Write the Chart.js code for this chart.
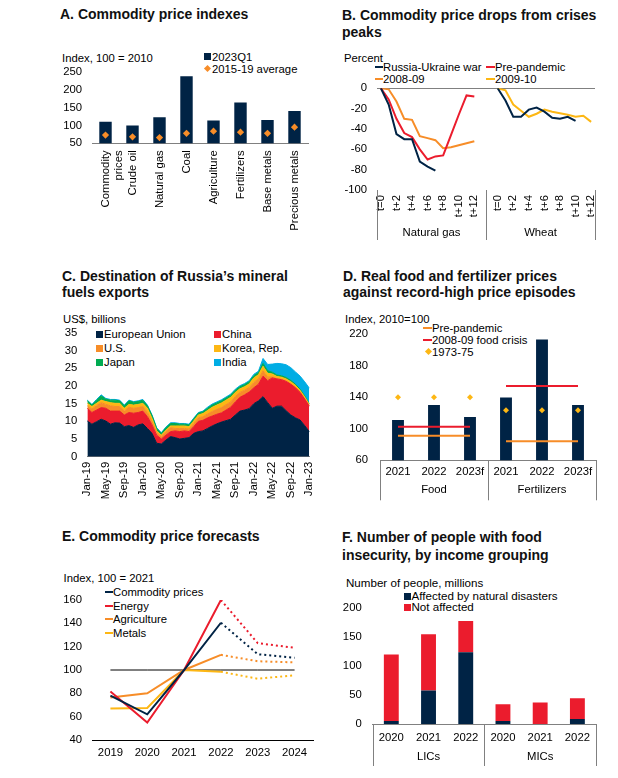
<!DOCTYPE html>
<html lang="en">
<head>
<meta charset="UTF-8">
<title>Commodity markets</title>
<script src="https://cdn.jsdelivr.net/npm/chart.js@4.4.0/dist/chart.umd.min.js"></script>
<style>
  body { margin: 0; background: #fff; font-family: Arial, "Liberation Sans", sans-serif; color: #000; }
  #page { position: relative; width: 618px; height: 778px; overflow: hidden; }
  .title { position: absolute; font-weight: bold; font-size: 14px; line-height: 17px; white-space: nowrap; color: #111; }
  .lbl { position: absolute; font-size: 11.3px; line-height: 12px; white-space: nowrap; }
  .sq { position: absolute; width: 7px; height: 7px; }
  .ln { position: absolute; width: 9px; height: 2px; }
  .dm { position: absolute; width: 5px; height: 5px; transform: rotate(45deg); }
  canvas { position: absolute; }
</style>
</head>
<body>
<div id="page">
  <!-- A -->
  <div class="title" style="left:60px;top:5.5px">A. Commodity price indexes</div>
  <div class="lbl" style="left:62px;top:52px">Index, 100 = 2010</div>
  <div class="sq" style="left:204px;top:53px;background:#002345"></div>
  <div class="lbl" style="left:212px;top:51px">2023Q1</div>
  <div class="dm" style="left:205px;top:66px;background:#F78D28"></div>
  <div class="lbl" style="left:212px;top:63px">2015-19 average</div>
  <canvas id="cA" width="262" height="175" style="left:50px;top:62px"></canvas>

  <!-- B -->
  <div class="title" style="left:342px;top:6.5px">B. Commodity price drops from crises<br>peaks</div>
  <div class="lbl" style="left:344px;top:52px">Percent</div>
  <div class="ln" style="left:375px;top:66px;width:8px;background:#002345"></div>
  <div class="lbl" style="left:383px;top:61px">Russia-Ukraine war</div>
  <div class="ln" style="left:486px;top:66px;background:#EB1C2D"></div>
  <div class="lbl" style="left:495px;top:61px">Pre-pandemic</div>
  <div class="ln" style="left:375px;top:78px;width:8px;background:#F78D28"></div>
  <div class="lbl" style="left:383px;top:73px">2008-09</div>
  <div class="ln" style="left:486px;top:78px;background:#FDB714"></div>
  <div class="lbl" style="left:495px;top:73px">2009-10</div>
  <canvas id="cB" width="275" height="170" style="left:330px;top:75px"></canvas>

  <!-- C -->
  <div class="title" style="left:62px;top:267.5px;line-height:16.5px">C. Destination of Russia’s mineral<br>fuels exports</div>
  <div class="lbl" style="left:63px;top:313px">US$, billions</div>
  <div class="sq" style="left:96px;top:330.5px;background:#002345"></div>
  <div class="lbl" style="left:104px;top:328px">European Union</div>
  <div class="sq" style="left:214px;top:330.5px;background:#EB1C2D"></div>
  <div class="lbl" style="left:222px;top:328px">China</div>
  <div class="sq" style="left:96px;top:344.5px;background:#F78D28"></div>
  <div class="lbl" style="left:104px;top:342px">U.S.</div>
  <div class="sq" style="left:214px;top:344.5px;background:#FDB714"></div>
  <div class="lbl" style="left:222px;top:342px">Korea, Rep.</div>
  <div class="sq" style="left:96px;top:358.5px;background:#00AB51"></div>
  <div class="lbl" style="left:104px;top:356px">Japan</div>
  <div class="sq" style="left:214px;top:358.5px;background:#00ADE4"></div>
  <div class="lbl" style="left:222px;top:356px">India</div>
  <canvas id="cC" width="278" height="200" style="left:40px;top:320px"></canvas>

  <!-- D -->
  <div class="title" style="left:343px;top:267.5px;line-height:16.5px">D. Real food and fertilizer prices<br>against record-high price episodes</div>
  <div class="lbl" style="left:345px;top:313px">Index, 2010=100</div>
  <div class="ln" style="left:423px;top:327px;background:#F78D28"></div>
  <div class="lbl" style="left:432px;top:322px">Pre-pandemic</div>
  <div class="ln" style="left:423px;top:339px;background:#EB1C2D"></div>
  <div class="lbl" style="left:432px;top:334px">2008-09 food crisis</div>
  <div class="dm" style="left:425.5px;top:349px;background:#FDB714"></div>
  <div class="lbl" style="left:432px;top:345.5px">1973-75</div>
  <canvas id="cD" width="275" height="190" style="left:330px;top:320px"></canvas>

  <!-- E -->
  <div class="title" style="left:62px;top:527.5px">E. Commodity price forecasts</div>
  <div class="lbl" style="left:63.5px;top:572px">Index, 100 = 2021</div>
  <div class="ln" style="left:105px;top:591px;width:8px;background:#002345"></div>
  <div class="lbl" style="left:113px;top:586px">Commodity prices</div>
  <div class="ln" style="left:105px;top:604.5px;width:8px;background:#EB1C2D"></div>
  <div class="lbl" style="left:113px;top:599.5px">Energy</div>
  <div class="ln" style="left:105px;top:618px;width:8px;background:#F78D28"></div>
  <div class="lbl" style="left:113px;top:613px">Agriculture</div>
  <div class="ln" style="left:105px;top:631.5px;width:8px;background:#FDB714"></div>
  <div class="lbl" style="left:113px;top:626.5px">Metals</div>
  <canvas id="cE" width="280" height="185" style="left:40px;top:585px"></canvas>

  <!-- F -->
  <div class="title" style="left:342px;top:527.5px;line-height:18.3px">F. Number of people with food<br>insecurity, by income grouping</div>
  <div class="lbl" style="left:346px;top:576.5px;font-size:11.6px">Number of people, millions</div>
  <div class="sq" style="left:404px;top:593px;width:6.5px;height:6.5px;background:#002345"></div>
  <div class="lbl" style="left:411.5px;top:590px;font-size:11.6px">Affected by natural disasters</div>
  <div class="sq" style="left:404px;top:604px;width:6.5px;height:6.5px;background:#EB1C2D"></div>
  <div class="lbl" style="left:411.5px;top:601px;font-size:11.6px">Not affected</div>
  <canvas id="cF" width="275" height="180" style="left:330px;top:595px"></canvas>
</div>

<script>
  // ---- data ----
  // A. Commodity price indexes (100 = 2010)
  const aCategories = [['Commodity', 'prices'], 'Crude oil', 'Natural gas', 'Coal', 'Agriculture', 'Fertilizers', 'Base metals', 'Precious metals'];
  const a2023Q1 = [110, 100, 123, 237, 114, 164, 115, 140];
  const aAverage1519 = [73, 68, 66, 78, 84, 81, 78, 95];

  // B. Price drops from crisis peaks (percent), t=0..t+12
  const bLabels = ['t=0', 't+1', 't+2', 't+3', 't+4', 't+5', 't+6', 't+7', 't+8', 't+9', 't+10', 't+11', 't+12', '', '',
                   't=0', 't+1', 't+2', 't+3', 't+4', 't+5', 't+6', 't+7', 't+8', 't+9', 't+10', 't+11', 't+12'];
  const bGroups = ['Natural gas', 'Wheat'];
  const bGasRussia = [0, -16, -45, -50, -50, -72, -77, -81, null, null, null, null, null];
  const bGasPrePandemic = [0, -11, -30, -44, -48, -60, -70, -67, -66, -46, -26, -7, -8];
  const bGas0809 = [0, -1, -13, -30, -31, -47, -49, -51, -59, -58, -56, -54, -52];
  const bWheatRussia = [0, -12, -28, -28, -21, -19, -23, -29, -30, -28, -32, null, null];
  const bWheat0910 = [0, -2, -16, -22, -28, -25, -21, -23, -24.5, -26, -28, -27, -33];

  // C. Russia's mineral fuels exports by destination (US$ billions), Jan-19..Jan-23
  const cMonths = ['Jan-19', 'Feb-19', 'Mar-19', 'Apr-19', 'May-19', 'Jun-19', 'Jul-19', 'Aug-19', 'Sep-19', 'Oct-19', 'Nov-19', 'Dec-19',
                   'Jan-20', 'Feb-20', 'Mar-20', 'Apr-20', 'May-20', 'Jun-20', 'Jul-20', 'Aug-20', 'Sep-20', 'Oct-20', 'Nov-20', 'Dec-20',
                   'Jan-21', 'Feb-21', 'Mar-21', 'Apr-21', 'May-21', 'Jun-21', 'Jul-21', 'Aug-21', 'Sep-21', 'Oct-21', 'Nov-21', 'Dec-21',
                   'Jan-22', 'Feb-22', 'Mar-22', 'Apr-22', 'May-22', 'Jun-22', 'Jul-22', 'Aug-22', 'Sep-22', 'Oct-22', 'Nov-22', 'Dec-22',
                   'Jan-23'];
  const cEU = [10.1, 9.2, 9.9, 10.6, 10.1, 9.2, 9.6, 9.5, 8.5, 8.8, 8.3, 9.0, 9.3,
               8.0, 6.6, 3.8, 3.6, 4.7, 5.7, 5.4, 5.0, 5.2, 5.4, 6.6, 7.1,
               7.3, 8.0, 8.7, 9.3, 9.8, 10.2, 10.6, 11.8, 12.9, 13.2, 13.6, 15.0,
               15.8, 17.0, 15.3, 13.7, 14.3, 14.3, 13.0, 11.8, 11.0, 10.4, 8.8, 7.1];
  const cChina = [3.6, 3.3, 3.3, 3.3, 3.6, 3.7, 3.3, 3.4, 3.3, 3.7, 4.0, 3.5, 3.6,
                  3.3, 2.4, 2.3, 1.4, 1.4, 1.4, 1.9, 2.1, 2.1, 1.7, 1.9, 2.9,
                  3.0, 3.0, 2.8, 2.7, 2.6, 3.0, 3.4, 3.7, 3.9, 4.3, 4.7, 4.5,
                  4.7, 5.8, 6.2, 8.6, 7.7, 7.5, 8.3, 8.7, 8.5, 7.8, 7.5, 7.2];
  const cUS = [0.7, 1.0, 1.2, 1.4, 1.1, 1.5, 1.3, 1.3, 1.1, 1.5, 1.4, 1.4, 1.3,
               1.2, 0.9, 0.8, 0.7, 1.0, 1.1, 0.7, 0.9, 0.7, 0.7, 0.9, 1.0,
               1.0, 1.1, 1.3, 1.4, 1.5, 1.5, 1.5, 1.5, 1.4, 1.3, 1.3, 1.5,
               1.5, 1.5, 1.0, 0.3, 0.1, 0.1, 0.1, 0.1, 0.1, 0.1, 0.1, 0.1];
  const cKorea = [0.7, 0.7, 0.7, 0.7, 0.8, 0.9, 0.9, 0.9, 0.8, 0.8, 0.9, 0.9, 0.9,
                  1.2, 0.9, 0.4, 0.4, 0.4, 0.5, 0.7, 0.7, 0.7, 0.7, 0.7, 0.8,
                  0.9, 1.0, 1.2, 1.2, 1.3, 1.3, 1.3, 1.2, 1.0, 1.0, 1.0, 1.3,
                  1.2, 1.3, 1.1, 0.8, 0.6, 0.6, 0.6, 0.6, 0.6, 0.5, 0.5, 0.4];
  const cJapan = [0.7, 0.4, 0.9, 1.2, 0.7, 0.7, 0.9, 0.7, 0.7, 1.0, 0.8, 0.8, 0.9,
                  0.7, 0.8, 0.7, 0.5, 0.7, 0.7, 0.7, 0.5, 0.5, 0.5, 0.6, 0.5,
                  0.5, 0.6, 0.6, 0.6, 0.6, 0.6, 0.6, 0.6, 0.6, 0.6, 0.6, 0.6,
                  0.6, 0.8, 0.7, 0.5, 0.4, 0.4, 0.4, 0.4, 0.3, 0.3, 0.3, 0.2];
  const cIndia = [0.2, 0.2, 0.2, 0.3, 0.2, 0.2, 0.2, 0.2, 0.2, 0.2, 0.2, 0.2, 0.2,
                  0.2, 0.2, 0.2, 0.2, 0.2, 0.2, 0.2, 0.2, 0.2, 0.2, 0.2, 0.2,
                  0.2, 0.3, 0.3, 0.3, 0.3, 0.3, 0.3, 0.3, 0.3, 0.3, 0.3, 0.4,
                  0.4, 1.4, 1.8, 2.3, 3.3, 3.4, 3.6, 3.6, 3.5, 3.7, 4.0, 4.4];

  // D. Real food and fertilizer prices (2010 = 100)
  const dYears = ['2021', '2022', '2023f', '2021', '2022', '2023f'];
  const dGroups = ['Food', 'Fertilizers'];
  const dIndex = [111, 130, 115, 139.5, 213, 130];
  const dPrePandemic = [91, 91, 91, 84, 84, 84];
  const dFoodCrisis = [102.5, 102.5, 102.5, 154, 154, 154];
  const d1973to75 = [140, 140, 140, 123.5, 123.5, 123.5];

  // E. Commodity price forecasts (100 = 2021); 2023-24 are forecasts
  const eYears = ['2019', '2020', '2021', '2022', '2023', '2024'];
  const eCommodity = [78, 62, 100, 140.5, 113.5, 110.5];
  const eEnergy = [81.5, 55, 100, 160, 123, 119];
  const eAgriculture = [76.5, 80, 100, 113, 107.5, 106.5];
  const eMetals = [67, 67.5, 100, 98.5, 92.5, 95.5];
  const eBase = [100, 100, 100, 100, 100, 100];

  // F. People with food insecurity (millions)
  const fYears = ['2020', '2021', '2022', '2020', '2021', '2022'];
  const fGroups = ['LICs', 'MICs'];
  const fAffected = [5, 58, 124, 5, 0, 8.5];
  const fNotAffected = [115, 97, 54, 29, 37, 36];

  // ---- styles ----
  const NAVY = '#002345', RED = '#EB1C2D', ORANGE = '#F78D28', YELLOW = '#FDB714', GREEN = '#00AB51', CYAN = '#00ADE4';
  const FONT = 'Arial, "Liberation Sans", sans-serif';
  const AXIS = '#808080';

  Chart.defaults.font.family = FONT;
  Chart.defaults.font.size = 11.3;
  Chart.defaults.color = '#000';
  Chart.defaults.animation = false;
  Chart.defaults.responsive = false;
  Chart.defaults.plugins.legend.display = false;
  Chart.defaults.plugins.tooltip.enabled = false;

  // fixed axis sizes so the plot areas land where they are in the picture
  const fixY = w => s => { s.width = w; s.paddingTop = 0; s.paddingBottom = 0; };
  const fixX = h => s => { s.height = h; s.paddingLeft = 0; s.paddingRight = 0; };

  // second level of category labels (groups) with separators
  const groupAxis = {
    id: 'groupAxis',
    afterDraw(chart, args, opts) {
      const x = chart.scales.x, area = chart.chartArea, ctx = chart.ctx;
      const n = opts.labels.length, per = x.ticks.length / n;
      const edges = [];
      for (let g = 0; g <= n; g++) {
        if (g === 0) edges.push(area.left);
        else if (g === n) edges.push(area.right);
        else edges.push((x.getPixelForValue(g * per - 1) + x.getPixelForValue(g * per)) / 2);
      }
      ctx.save();
      ctx.strokeStyle = AXIS;
      ctx.lineWidth = 1;
      edges.forEach(px => {
        const p = Math.round(px) + 0.5;
        ctx.beginPath();
        ctx.moveTo(p, area.bottom);
        ctx.lineTo(p, area.bottom + opts.lineLength);
        ctx.stroke();
      });
      ctx.fillStyle = '#000';
      ctx.font = '11.3px ' + FONT;
      ctx.textAlign = 'center';
      ctx.textBaseline = 'middle';
      opts.labels.forEach((l, g) => ctx.fillText(l, (edges[g] + edges[g + 1]) / 2, area.bottom + opts.labelOffset));
      ctx.restore();
    }
  };

  // A
  new Chart(document.getElementById('cA'), {
    type: 'bar',
    data: {
      labels: aCategories,
      datasets: [
        { type: 'line', label: '2015-19 average', data: aAverage1519, showLine: false,
          pointStyle: 'rectRot', pointRadius: 3.6, pointBackgroundColor: ORANGE, pointBorderWidth: 0 },
        { label: '2023Q1', data: a2023Q1, backgroundColor: NAVY, barPercentage: 0.46, categoryPercentage: 1 }
      ]
    },
    options: {
      layout: { padding: { top: 9.7, right: 2, left: 0, bottom: 0 } },
      scales: {
        x: { grid: { display: false, drawTicks: false }, border: { color: AXIS },
             ticks: { autoSkip: false, minRotation: 90, maxRotation: 90, padding: 7 }, afterFit: fixX(93.7) },
        y: { min: 50, max: 250, ticks: { stepSize: 50, padding: 10 },
             grid: { display: false, drawTicks: false }, border: { display: false }, afterFit: fixY(42) }
      }
    }
  });

  // B
  const gasWheat = (gas, wheat) => gas.concat([null, null], wheat);
  const noData = [null, null, null, null, null, null, null, null, null, null, null, null, null];
  const bLine = (label, data, color) => ({ label, data, borderColor: color, borderWidth: 2, pointRadius: 0, tension: 0, spanGaps: false });
  new Chart(document.getElementById('cB'), {
    type: 'line',
    data: {
      labels: bLabels,
      datasets: [
        bLine('Russia-Ukraine war', gasWheat(bGasRussia, bWheatRussia), NAVY),
        bLine('Pre-pandemic', gasWheat(bGasPrePandemic, noData), RED),
        bLine('2008-09', gasWheat(bGas0809, noData), ORANGE),
        bLine('2009-10', gasWheat(noData, bWheat0910), YELLOW)
      ]
    },
    options: {
      layout: { padding: { top: 13.3, right: 10, left: 0, bottom: 0 } },
      plugins: { groupAxis: { labels: bGroups, lineLength: 50, labelOffset: 43 } },
      scales: {
        x: { offset: true, grid: { display: false, drawTicks: false }, border: { display: false },
             ticks: { autoSkip: false, minRotation: 90, maxRotation: 90, padding: 5,
                      callback(v) { const l = this.getLabelForValue(v); return parseInt(l.slice(2)) % 2 === 0 ? l : ''; } },
             afterFit: fixX(55) },
        y: { min: -100, max: 0, ticks: { stepSize: 20, padding: 10 },
             grid: { drawTicks: false, color: c => c.tick.value === 0 ? AXIS : 'rgba(0,0,0,0)' },
             border: { display: false }, afterFit: fixY(47) }
      }
    },
    plugins: [groupAxis]
  });

  // C
  const cArea = (label, data, color, fill) => ({ label, data, backgroundColor: color, borderColor: color, borderWidth: 1,
                                                  pointRadius: 0, tension: 0, fill });
  new Chart(document.getElementById('cC'), {
    type: 'line',
    data: {
      labels: cMonths,
      datasets: [
        cArea('European Union', cEU, NAVY, 'origin'),
        cArea('China', cChina, RED, '-1'),
        cArea('U.S.', cUS, ORANGE, '-1'),
        cArea('Korea, Rep.', cKorea, YELLOW, '-1'),
        cArea('Japan', cJapan, GREEN, '-1'),
        cArea('India', cIndia, CYAN, '-1')
      ]
    },
    options: {
      layout: { padding: { top: 13, right: 8.7, left: 0, bottom: 0 } },
      scales: {
        x: { grid: { display: false, drawTicks: false }, border: { color: AXIS },
             ticks: { autoSkip: false, minRotation: 90, maxRotation: 90, padding: 5,
                      callback(v, i) { return i % 4 === 0 ? this.getLabelForValue(v) : ''; } },
             afterFit: fixX(63.3) },
        y: { stacked: true, min: 0, max: 35, ticks: { stepSize: 5, padding: 10 },
             grid: { display: false, drawTicks: false }, border: { display: false }, afterFit: fixY(47.3) }
      }
    }
  });

  // D
  const flatLine = (label, data, color) => ({ type: 'line', label, data, borderColor: color, borderWidth: 2, pointRadius: 0,
    segment: { borderColor: c => c.p0DataIndex === 2 ? 'rgba(0,0,0,0)' : color } });
  new Chart(document.getElementById('cD'), {
    type: 'bar',
    data: {
      labels: dYears,
      datasets: [
        { type: 'line', label: '1973-75', data: d1973to75, showLine: false,
          pointStyle: 'rectRot', pointRadius: 3, pointBackgroundColor: YELLOW, pointBorderWidth: 0 },
        flatLine('2008-09 food crisis', dFoodCrisis, RED),
        flatLine('Pre-pandemic', dPrePandemic, ORANGE),
        { label: 'Index', data: dIndex, backgroundColor: NAVY, barPercentage: 0.33, categoryPercentage: 1 }
      ]
    },
    options: {
      layout: { padding: { top: 14, right: 9, left: 0, bottom: 0 } },
      plugins: { groupAxis: { labels: dGroups, lineLength: 40, labelOffset: 29.7 } },
      scales: {
        x: { grid: { display: false, drawTicks: false }, border: { color: AXIS },
             ticks: { padding: 5 }, afterFit: fixX(49.7) },
        y: { min: 60, max: 220, ticks: { stepSize: 40, padding: 12 },
             grid: { display: false, drawTicks: false }, border: { display: false }, afterFit: fixY(50) }
      }
    },
    plugins: [groupAxis]
  });

  // E
  const eLine = (label, data, color) => ({ label, data, borderColor: color, borderWidth: 2, pointRadius: 0, tension: 0,
    segment: { borderDash: c => c.p0DataIndex >= 3 ? [2, 3] : undefined } });
  new Chart(document.getElementById('cE'), {
    type: 'line',
    data: {
      labels: eYears,
      datasets: [
        eLine('Commodity prices', eCommodity, NAVY),
        eLine('Energy', eEnergy, RED),
        eLine('Agriculture', eAgriculture, ORANGE),
        eLine('Metals', eMetals, YELLOW),
        { label: 'Base', data: eBase, borderColor: '#000', borderWidth: 1, pointRadius: 0 }
      ]
    },
    options: {
      layout: { padding: { top: 15, right: 7, left: 0, bottom: 0 } },
      scales: {
        x: { offset: true, grid: { display: false, drawTicks: false }, border: { color: '#000' },
             ticks: { padding: 6 }, afterFit: fixX(30) },
        y: { min: 40, max: 160, ticks: { stepSize: 20, padding: 10 },
             grid: { display: false, drawTicks: false }, border: { display: false }, afterFit: fixY(52) }
      }
    }
  });

  // F
  new Chart(document.getElementById('cF'), {
    type: 'bar',
    data: {
      labels: fYears,
      datasets: [
        { label: 'Affected by natural disasters', data: fAffected, backgroundColor: NAVY, barPercentage: 0.4, categoryPercentage: 1 },
        { label: 'Not affected', data: fNotAffected, backgroundColor: RED, barPercentage: 0.4, categoryPercentage: 1 }
      ]
    },
    options: {
      layout: { padding: { top: 13.3, right: 9, left: 0, bottom: 0 } },
      plugins: { groupAxis: { labels: fGroups, lineLength: 42, labelOffset: 33.3 } },
      scales: {
        x: { stacked: true, grid: { display: false, drawTicks: false }, border: { color: AXIS },
             ticks: { padding: 7.5 }, afterFit: fixX(51) },
        y: { stacked: true, min: 0, max: 200, ticks: { stepSize: 50, padding: 11 },
             grid: { display: false, drawTicks: false }, border: { display: false }, afterFit: fixY(42.7) }
      }
    },
    plugins: [groupAxis]
  });
</script>
</body>
</html>
